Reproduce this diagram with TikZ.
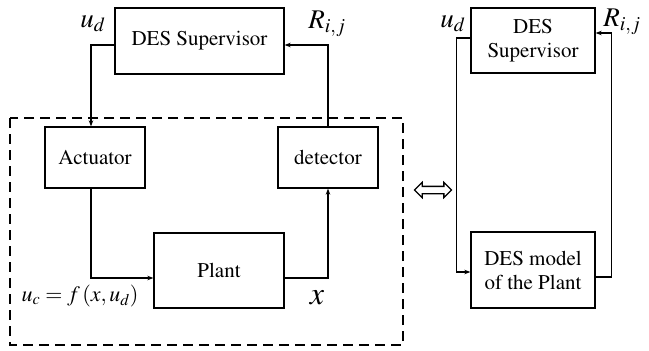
\documentclass[tikz,border=0pt]{standalone}
\usepackage[T1]{fontenc}
\usepackage{mathptmx}
\usetikzlibrary{arrows.meta,shapes.arrows}

\begin{document}
\begin{tikzpicture}[x=1pt,y=-1pt,font=\rmfamily\fontsize{21}{24}\selectfont,
  box/.style={draw,line width=1.3pt,inner sep=0pt,align=center},
  arr/.style={-{Stealth[length=6pt,width=4.5pt]},line width=1.3pt},
  lbl/.style={font=\fontsize{27}{30}\selectfont,inner sep=0pt},
  frame/.style={draw,line width=2.8pt,dash pattern=on 10pt off 6pt}]
\useasboundingbox (0,0) rectangle (649,351);
% closed loop with the real plant
\node[box,minimum width=169pt,minimum height=66pt] (sup) at (199.5,41) {DES Supervisor};
\node[box,minimum width=100pt,minimum height=61pt] (act) at (95,157.5) {Actuator};
\node[box,minimum width=100pt,minimum height=61pt] (det) at (328,157.5) {detector};
\node[box,minimum width=130pt,minimum height=75pt] (plant) at (219,270.5) {Plant};
\draw[frame] (10,118) rectangle (403,345);
\draw[arr] ([yshift=-4pt]sup.west) -| ([xshift=-4pt]act.north);
\draw[arr] ([xshift=-4pt]act.south) |- ([yshift=-7.5pt]plant.west);
\draw[arr] ([yshift=-7.5pt]plant.east) -| (det.south);
\draw[arr] (det.north) |- ([yshift=-4pt]sup.east);
\node[lbl] (ud) at (93,24) {$u_d$};
\node[lbl] (rij) at (327,24) {$R_{i,j}$};
\node[lbl,font=\fontsize{22}{24}\selectfont] (uc) at (80,296) {$u_c=f\,(x,u_d)$};
\node[lbl,font=\fontsize{32}{34}\selectfont] (xout) at (317,298) {$x$};
% equivalence
\node[double arrow,draw,line width=1.3pt,inner sep=3pt,minimum height=37pt,
  double arrow head extend=4pt] (eq) at (433,190) {};
% closed loop with the DES model
\node[box,minimum width=124pt,minimum height=65pt] (sup2) at (533,40.5) {DES\\Supervisor};
\node[box,minimum width=124pt,minimum height=76pt] (model) at (533,270) {DES model\\of the Plant};
\draw[arr] ([yshift=2.5pt]sup2.west) -- ++(-14,0) |- ([yshift=-2pt]model.west);
\draw[arr] ([yshift=-7pt]model.east) -- ++(16,0) |- ([yshift=7.5pt]sup2.east);
\node[lbl] (ud2) at (453,24) {$u_d$};
\node[lbl] (rij2) at (622,22) {$R_{i,j}$};
\end{tikzpicture}
\end{document}
